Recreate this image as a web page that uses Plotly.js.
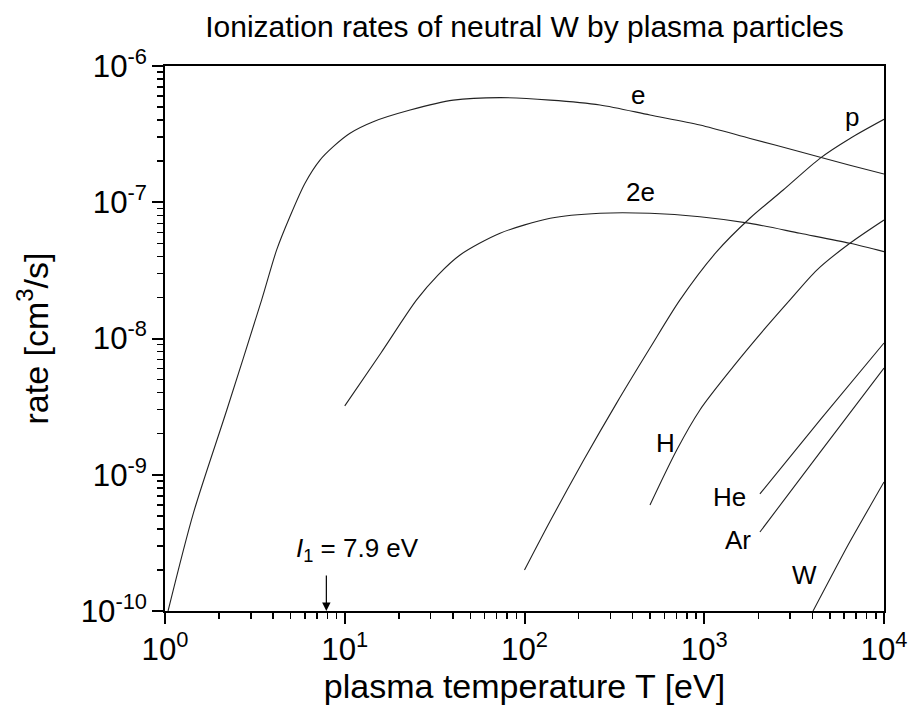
<!DOCTYPE html>
<html>
<head>
<meta charset="utf-8">
<script src="https://cdn.plot.ly/plotly-3.0.1.min.js"></script>
<style>html,body{margin:0;padding:0;background:#fff;}#chart{width:910px;height:707px;}</style>
</head>
<body>
<div id="chart"></div>
<script>
// Plasma temperature T [eV] and ionization rates [cm^3/s]
const T_e    = [1.04, 1.44, 2.2, 3.45, 4.18, 4.95, 6.01, 7.28, 8.63, 10.7, 14.4, 23.1, 40.2, 73.1, 139, 263, 499, 946, 1800, 3410, 6460, 10000];
const rate_e = [1.0e-10, 5.25e-10, 2.95e-9, 1.92e-8, 4.47e-8, 7.83e-8, 1.38e-7, 2.04e-7, 2.56e-7, 3.21e-7, 3.9e-7, 4.75e-7, 5.62e-7, 5.86e-7, 5.62e-7, 5.18e-7, 4.37e-7, 3.69e-7, 2.94e-7, 2.35e-7, 1.87e-7, 1.61e-7];

const T_2e    = [10.0, 15.9, 25.1, 33.0, 43.8, 73.1, 139, 263, 499, 946, 1800, 3410, 6460, 10000];
const rate_2e = [3.2e-9, 7.83e-9, 1.92e-8, 2.92e-8, 4.1e-8, 5.92e-8, 7.62e-8, 8.3e-8, 8.3e-8, 7.83e-8, 7.0e-8, 5.92e-8, 5.0e-8, 4.34e-8];

const T_p    = [100, 139, 212, 326, 499, 733, 1170, 1800, 2750, 4420, 6470, 10000];
const rate_p = [2.0e-10, 4.58e-10, 1.26e-9, 3.37e-9, 8.51e-9, 1.92e-8, 4.32e-8, 7.66e-8, 1.23e-7, 2.11e-7, 2.94e-7, 4.06e-7];

const T_H    = [499, 703, 946, 1450, 2220, 3000, 4230, 6460, 10000];
const rate_H = [6.0e-10, 1.52e-9, 2.99e-9, 6.21e-9, 1.22e-8, 1.92e-8, 3.18e-8, 5.0e-8, 7.41e-8];

const T_He    = [2040, 4460, 10000];
const rate_He = [7.23e-10, 2.57e-9, 9.27e-9];

const T_Ar    = [2040, 4460, 10000];
const rate_Ar = [3.8e-10, 1.49e-9, 6.07e-9];

const T_W    = [4030, 6310, 10000];
const rate_W = [1.0e-10, 3.05e-10, 8.85e-10];

// Curve labels
const labelText = ['e', '2e', 'p', 'H', 'He', 'Ar', 'W'];
const labelT    = [428, 440, 6610, 605, 1390, 1540, 3630];
const labelRate = [6.12e-7, 1.19e-7, 4.25e-7, 1.70e-9, 6.90e-10, 3.32e-10, 1.84e-10];

const I1 = 7.9; // first ionization potential [eV]

// Tick label text (Plotly's default power labels mapped to the reference's style)
const xTickAlias = {'1': '10<sup>0</sup>', '10': '10<sup>1</sup>'};
const yTickAlias = {};
[-10, -9, -8, -7, -6].forEach(p => { yTickAlias['10<sup>\u2212' + Math.abs(p) + '</sup>'] = '10<sup>-' + Math.abs(p) + '</sup>'; });

const FONT = 'Liberation Sans, Arial, Helvetica, sans-serif';
const BLACK = '#000';
const curveLine = {color: '#222', width: 1.1, shape: 'spline', smoothing: 0.8};
const straightLine = {color: '#222', width: 1.1, shape: 'spline', smoothing: 0.5};

const series = [[T_e, rate_e, curveLine], [T_2e, rate_2e, curveLine], [T_p, rate_p, curveLine], [T_H, rate_H, curveLine],
                [T_He, rate_He, straightLine], [T_Ar, rate_Ar, straightLine], [T_W, rate_W, straightLine]];
const traces = series.map(s => ({x: s[0], y: s[1], mode: 'lines', line: s[2], hoverinfo: 'skip'}));

const annotations = labelText.map((t, i) => ({
  text: t, x: Math.log10(labelT[i]), y: Math.log10(labelRate[i]), xref: 'x', yref: 'y',
  showarrow: false, font: {family: FONT, size: 26, color: BLACK}
}));
annotations.push({
  text: '<i>I</i><sub>1</sub> = 7.9 eV', x: Math.log10(11.7), y: Math.log10(2.82e-10), xref: 'x', yref: 'y',
  showarrow: false, font: {family: FONT, size: 26, color: BLACK}
});
annotations.push({
  text: '', x: Math.log10(I1), y: -10, xref: 'x', yref: 'y', showarrow: true,
  ax: 0, ay: -37, arrowhead: 2, arrowsize: 1.4, arrowwidth: 1.2, arrowcolor: BLACK
});

const axisCommon = {
  type: 'log', showgrid: false, zeroline: false, showline: true, linecolor: BLACK, linewidth: 2,
  mirror: true, ticks: 'outside', ticklen: 11, tickwidth: 2, tickcolor: BLACK,
  dtick: 1, tick0: 0, exponentformat: 'power', showexponent: 'all', ticklabeloverflow: 'allow',
  minor: {ticks: 'outside', ticklen: 6, tickwidth: 1.5, tickcolor: BLACK, dtick: 'D1', showgrid: false},
  tickfont: {family: FONT, size: 25, color: BLACK}
};

const layout = {
  width: 910, height: 707,
  margin: {l: 165, r: 26, t: 66, b: 96},
  paper_bgcolor: '#fff', plot_bgcolor: '#fff',
  showlegend: false,
  font: {family: FONT, color: BLACK},
  title: {text: 'Ionization rates of neutral W by plasma particles', font: {family: FONT, size: 30, color: BLACK}, x: 0.5, xref: 'paper', xanchor: 'center', y: 0.962, yanchor: 'middle'},
  xaxis: Object.assign({}, axisCommon, {
    range: [0, 4], labelalias: xTickAlias,
    title: {text: 'plasma temperature T [eV]', font: {family: FONT, size: 34, color: BLACK}, standoff: 4}
  }),
  yaxis: Object.assign({}, axisCommon, {
    range: [-10, -6], labelalias: yTickAlias,
    title: {text: 'rate [cm<sup>3</sup>/s]', font: {family: FONT, size: 34, color: BLACK}, standoff: 22}
  }),
  annotations: annotations
};

Plotly.newPlot('chart', traces, layout, {staticPlot: true, displayModeBar: false});
</script>
</body>
</html>
